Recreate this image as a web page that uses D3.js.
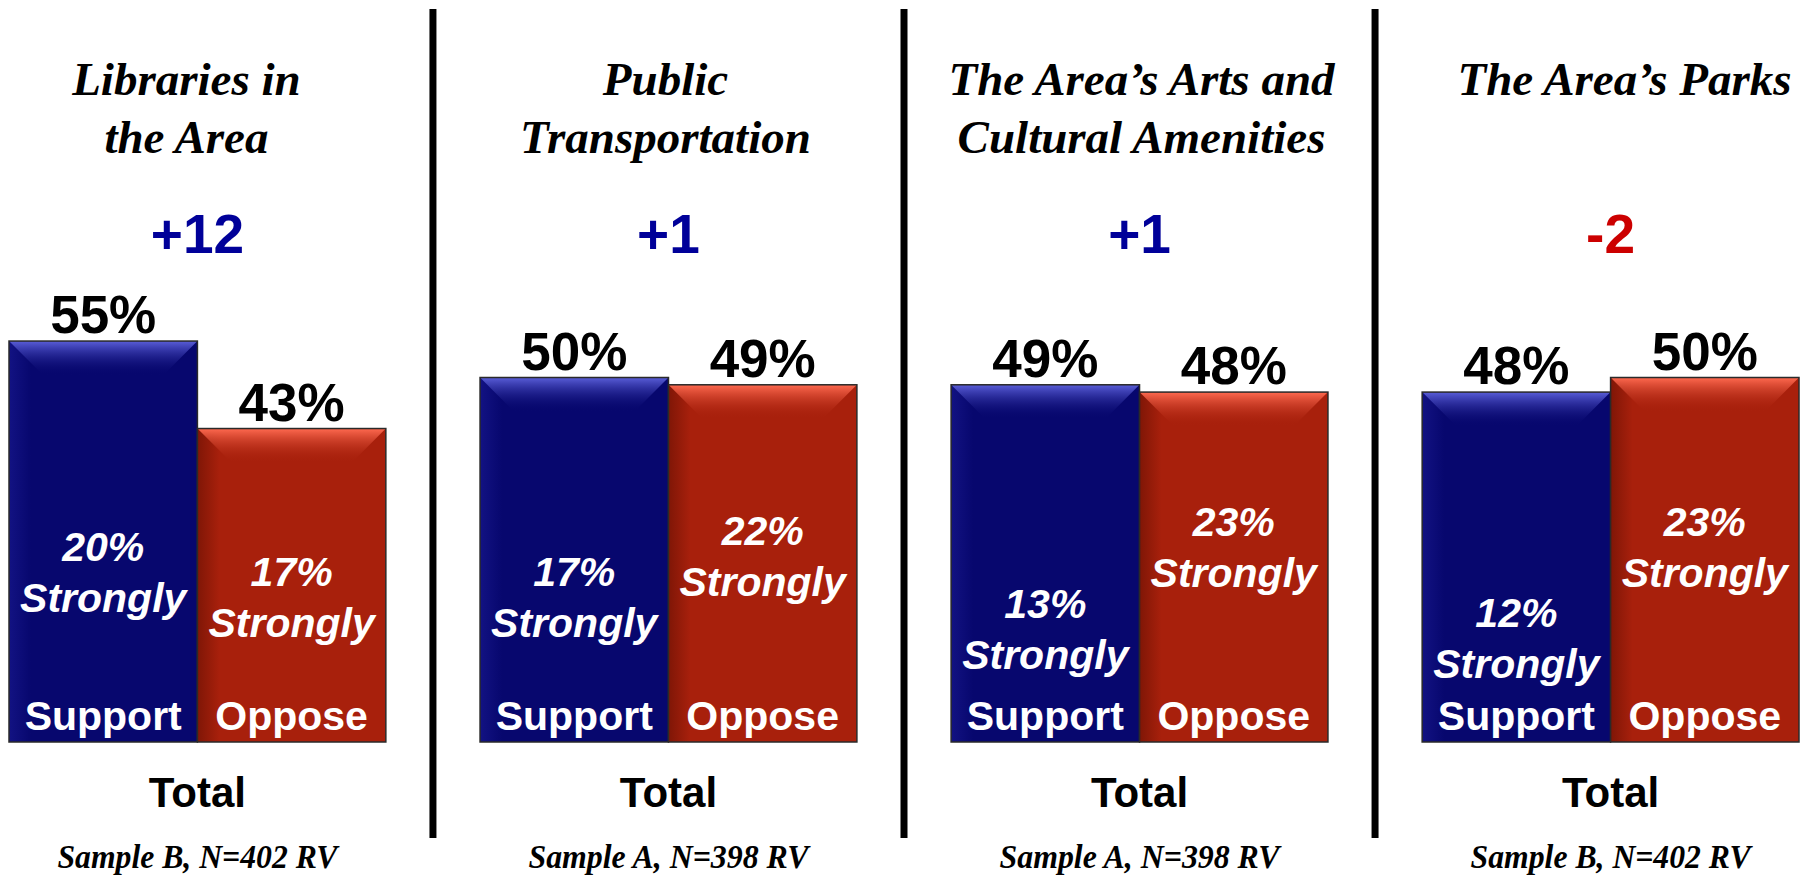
<!DOCTYPE html>
<html>
<head>
<meta charset="utf-8">
<script src="https://cdn.jsdelivr.net/npm/d3@7"></script>
<style>
  html, body { margin: 0; padding: 0; background: #ffffff; }
  svg { display: block; }
</style>
</head>
<body>
<svg id="chart" width="1812" height="877"></svg>
<script>
// ---------------- DATA ----------------
const topics = ["Libraries in the Area", "Public Transportation", "The Area’s Arts and Cultural Amenities", "The Area’s Parks"];
const titleLines = [["Libraries in", "the Area"], ["Public", "Transportation"], ["The Area’s Arts and", "Cultural Amenities"], ["The Area’s Parks"]];
const seriesNames = ["Support", "Oppose"];
const supportTotal = [55, 50, 49, 48];
const opposeTotal = [43, 49, 48, 50];
const supportStrongly = [20, 17, 13, 12];
const opposeStrongly = [17, 22, 23, 23];
const categoryLabel = "Total";
const sampleNotes = ["Sample B, N=402 RV", "Sample A, N=398 RV", "Sample A, N=398 RV", "Sample B, N=402 RV"];

// ---------------- LAYOUT ----------------
const W = 1812, H = 877;
const titleDx = [-11, -3, 2, 14];
const svg = d3.select("#chart");
const defs = svg.append("defs");

const xPanel = d3.scaleBand().domain(topics).range([9, 1799]).paddingInner(0.2).paddingOuter(0);
const xBar = d3.scaleBand().domain(seriesNames).range([0, xPanel.bandwidth()]).padding(0);
const y = d3.scaleLinear().domain([0, 100]).range([742, 13]);

const style = {
  Support: { fill: "#07076e", light: "#5a5ed8", edge: "#1a1a90", edgeOpacity: 0.6 },
  Oppose:  { fill: "#a8200c", light: "#ff6a50", edge: "#6e1204", edgeOpacity: 0.7 }
};

// gradients
seriesNames.forEach(s => {
  const g = defs.append("linearGradient").attr("id", "top-" + s)
    .attr("x1", 0).attr("y1", 0).attr("x2", 0).attr("y2", 1);
  g.append("stop").attr("offset", "0%").attr("stop-color", style[s].light).attr("stop-opacity", 1);
  g.append("stop").attr("offset", "100%").attr("stop-color", style[s].fill).attr("stop-opacity", 0);
  const e = defs.append("linearGradient").attr("id", "edge-" + s)
    .attr("x1", 0).attr("y1", 0).attr("x2", 1).attr("y2", 0);
  e.append("stop").attr("offset", "0%").attr("stop-color", style[s].edge).attr("stop-opacity", style[s].edgeOpacity);
  e.append("stop").attr("offset", "100%").attr("stop-color", style[s].edge).attr("stop-opacity", 0);
});

const rows = topics.map((t, i) => ({
  topic: t,
  lines: titleLines[i],
  dx: titleDx[i],
  note: sampleNotes[i],
  net: supportTotal[i] - opposeTotal[i],
  bars: [
    { series: "Support", total: supportTotal[i], strong: supportStrongly[i] },
    { series: "Oppose", total: opposeTotal[i], strong: opposeStrongly[i] }
  ]
}));

// separators
const seps = topics.slice(1).map((t, i) => (xPanel(topics[i]) + xPanel.bandwidth() + xPanel(t)) / 2);
svg.selectAll("line.sep").data(seps).join("line")
  .attr("class", "sep")
  .attr("x1", d => d).attr("x2", d => d)
  .attr("y1", 9).attr("y2", 838)
  .attr("stroke", "#000").attr("stroke-width", 7);

const panel = svg.selectAll("g.panel").data(rows).join("g")
  .attr("class", "panel")
  .attr("transform", d => `translate(${xPanel(d.topic)},0)`);

const cx = xPanel.bandwidth() / 2;

// titles
panel.each(function(d) {
  const g = d3.select(this);
  g.selectAll("text.title").data(d.lines).join("text")
    .attr("class", "title")
    .attr("x", cx + d.dx)
    .attr("y", (l, j) => 95 + j * 58)
    .attr("text-anchor", "middle")
    .attr("font-family", "'Liberation Serif', 'Times New Roman', serif")
    .attr("font-weight", "bold").attr("font-style", "italic")
    .attr("font-size", 47).attr("fill", "#000")
    .text(l => l);
});

// net difference
panel.append("text")
  .attr("x", cx).attr("y", 253)
  .attr("text-anchor", "middle")
  .attr("font-family", "'Liberation Sans', Arial, sans-serif")
  .attr("font-weight", "bold").attr("font-size", 55)
  .attr("fill", d => d.net >= 0 ? "#000099" : "#cc0000")
  .text(d => (d.net > 0 ? "+" : "") + d.net);

// bars
const bar = panel.selectAll("g.bar").data(d => d.bars).join("g")
  .attr("class", "bar")
  .attr("transform", d => `translate(${xBar(d.series)},0)`);

const bw = xBar.bandwidth();
const bev = 34;

bar.append("rect")
  .attr("x", 0).attr("y", d => y(d.total))
  .attr("width", bw).attr("height", d => y(0) - y(d.total))
  .attr("fill", d => style[d.series].fill);

bar.append("rect")
  .attr("x", 0).attr("y", d => y(d.total))
  .attr("width", 22).attr("height", d => y(0) - y(d.total))
  .attr("fill", d => `url(#edge-${d.series})`);

bar.append("path")
  .attr("d", d => {
    const t = y(d.total);
    return `M0,${t} L${bw},${t} L${bw - bev},${t + bev} L${bev},${t + bev} Z`;
  })
  .attr("fill", d => `url(#top-${d.series})`);

bar.append("rect")
  .attr("x", 0).attr("y", d => y(d.total))
  .attr("width", bw).attr("height", d => y(0) - y(d.total))
  .attr("fill", "none").attr("stroke", "#2a2a2a").attr("stroke-width", 1.5);

// value labels
bar.append("text")
  .attr("x", bw / 2).attr("y", d => y(d.total) - 8)
  .attr("text-anchor", "middle")
  .attr("font-family", "'Liberation Sans', Arial, sans-serif")
  .attr("font-weight", "bold").attr("font-size", 53).attr("fill", "#000")
  .text(d => d.total + "%");

// strongly labels
const strongG = bar.append("text")
  .attr("text-anchor", "middle")
  .attr("font-family", "'Liberation Sans', Arial, sans-serif")
  .attr("font-weight", "bold").attr("font-style", "italic")
  .attr("font-size", 41).attr("fill", "#fff");
strongG.append("tspan")
  .attr("x", bw / 2).attr("y", d => y(d.strong * 1.125) - 17)
  .text(d => d.strong + "%");
strongG.append("tspan")
  .attr("x", bw / 2).attr("y", d => y(d.strong * 1.125) - 17 + 51)
  .text("Strongly");

// series name inside bar bottom
bar.append("text")
  .attr("x", bw / 2).attr("y", y(0) - 12)
  .attr("text-anchor", "middle")
  .attr("font-family", "'Liberation Sans', Arial, sans-serif")
  .attr("font-weight", "bold").attr("font-size", 41).attr("fill", "#fff")
  .text(d => d.series);

// category label
panel.append("text")
  .attr("x", cx).attr("y", 807)
  .attr("text-anchor", "middle")
  .attr("font-family", "'Liberation Sans', Arial, sans-serif")
  .attr("font-weight", "bold").attr("font-size", 42).attr("fill", "#000")
  .text(categoryLabel);

// sample notes
panel.append("text")
  .attr("x", cx).attr("y", 868)
  .attr("text-anchor", "middle")
  .attr("font-family", "'Liberation Serif', 'Times New Roman', serif")
  .attr("font-weight", "bold").attr("font-style", "italic")
  .attr("font-size", 34).attr("fill", "#000")
  .attr("textLength", 280).attr("lengthAdjust", "spacingAndGlyphs")
  .text(d => d.note);
</script>
</body>
</html>
